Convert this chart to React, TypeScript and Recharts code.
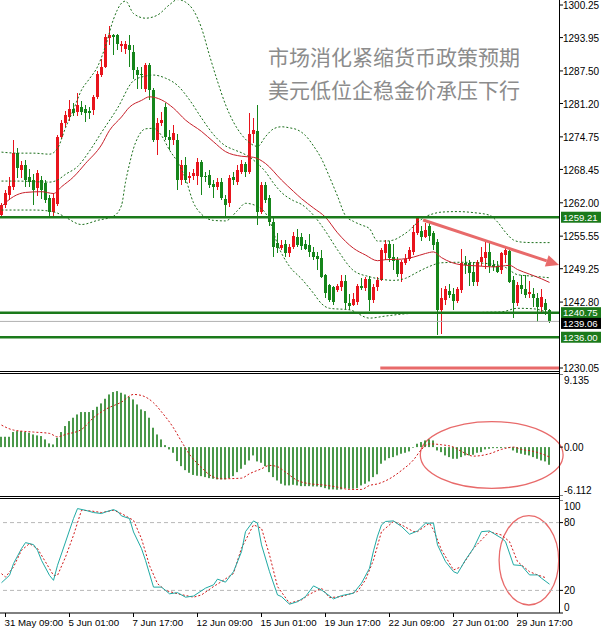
import React from 'react';
import {
    ComposedChart,
    Bar,
    Line,
    XAxis,
    YAxis,
    ReferenceLine,
    ReferenceArea,
} from 'recharts';

// ---- candles (H4 bars, index 0 = leftmost) ----
const opens = [
    1259.6, 1261.6, 1263.5, 1265.1, 1271.6, 1268.3, 1269.3, 1267.0, 1266.5, 1264.8,
    1266.4, 1265.8, 1262.9, 1260.3, 1261.8, 1274.8, 1277.4, 1278.6, 1280.1, 1279.6,
    1280.6, 1280.1, 1279.8, 1279.9, 1282.5, 1286.7, 1288.3, 1293.8, 1294.4, 1294.45,
    1292.3, 1291.7, 1292.5, 1291.2, 1287.7, 1287.0, 1284.0, 1288.6, 1283.8, 1274.1,
    1277.4, 1280.6, 1274.8, 1274.1, 1274.1, 1266.4, 1269.3, 1266.7, 1267.2, 1267.2,
    1269.8, 1267.2, 1267.4, 1265.6, 1265.1, 1266.1, 1262.7, 1261.9, 1267.0, 1266.1,
    1268.0, 1269.5, 1268.0, 1275.4, 1275.8, 1260.3, 1265.4, 1262.9, 1258.3, 1254.2,
    1253.3, 1254.0, 1252.2, 1253.4, 1255.3, 1255.4, 1254.0, 1253.8, 1252.5, 1251.7,
    1251.3, 1248.0, 1246.1, 1245.7, 1245.1, 1245.7, 1246.8, 1242.6, 1242.3, 1242.9,
    1245.9, 1245.5, 1247.2, 1243.2, 1245.7, 1247.1, 1252.3, 1254.0, 1251.5, 1250.9,
    1248.2, 1250.4, 1251.1, 1252.5, 1256.2, 1256.6, 1255.4, 1257.5, 1256.1, 1254.5,
    1241.3, 1243.2, 1245.0, 1244.3, 1243.0, 1245.1, 1250.4, 1250.3, 1248.7, 1246.6,
    1250.6, 1251.3, 1252.4, 1250.0, 1249.8, 1249.0, 1251.9, 1252.6, 1247.1, 1242.6,
    1246.1, 1245.3, 1244.3, 1244.4, 1243.5, 1241.8, 1242.6, 1241.3,
];
const highs = [
    1262.0, 1264.5, 1267.0, 1274.2, 1272.5, 1270.0, 1270.3, 1268.5, 1267.5, 1268.3,
    1267.2, 1266.5, 1263.5, 1263.8, 1275.2, 1278.0, 1279.8, 1281.9, 1281.3, 1283.2,
    1281.6, 1281.0, 1280.6, 1282.8, 1287.4, 1289.9, 1294.7, 1296.1, 1294.7, 1294.7,
    1293.2, 1293.2, 1294.45, 1292.6, 1288.3, 1288.3, 1289.0, 1289.0, 1284.2, 1278.4,
    1279.6, 1281.3, 1276.1, 1277.0, 1275.3, 1270.2, 1270.9, 1267.9, 1268.5, 1270.7,
    1270.3, 1268.0, 1268.3, 1266.4, 1266.7, 1266.7, 1263.5, 1267.3, 1267.9, 1269.3,
    1270.3, 1269.9, 1279.4, 1278.4, 1281.0, 1266.0, 1266.0, 1263.5, 1259.0, 1256.1,
    1254.8, 1254.9, 1254.0, 1256.4, 1256.9, 1256.1, 1254.8, 1255.9, 1253.5, 1252.5,
    1252.9, 1248.2, 1246.3, 1246.0, 1246.3, 1248.0, 1248.0, 1244.4, 1244.6, 1246.3,
    1247.4, 1247.6, 1247.8, 1246.3, 1247.7, 1253.3, 1254.8, 1254.6, 1254.0, 1251.5,
    1251.0, 1252.1, 1253.5, 1257.7, 1259.3, 1257.6, 1258.1, 1258.5, 1256.6, 1255.0,
    1245.5, 1245.9, 1246.3, 1245.5, 1245.7, 1253.0, 1251.7, 1251.0, 1250.5, 1251.0,
    1253.5, 1254.5, 1254.5, 1251.0, 1250.7, 1252.5, 1253.5, 1253.0, 1247.8, 1246.7,
    1248.0, 1248.0, 1246.8, 1245.6, 1244.5, 1245.3, 1243.4, 1241.4,
];
const lows = [
    1259.3, 1261.0, 1262.5, 1264.5, 1266.7, 1266.7, 1265.0, 1265.0, 1261.6, 1263.3,
    1262.8, 1262.0, 1259.3, 1259.5, 1261.3, 1274.3, 1276.7, 1277.9, 1278.7, 1278.7,
    1278.9, 1277.7, 1278.3, 1279.0, 1282.0, 1286.4, 1288.0, 1292.6, 1290.6, 1291.6,
    1291.2, 1290.8, 1288.3, 1286.0, 1284.0, 1284.0, 1283.5, 1281.9, 1273.8, 1271.2,
    1276.9, 1274.1, 1272.2, 1273.2, 1264.5, 1265.4, 1265.8, 1265.8, 1266.4, 1265.4,
    1263.5, 1266.0, 1264.9, 1262.9, 1264.5, 1262.5, 1259.0, 1261.2, 1265.4, 1265.4,
    1267.5, 1267.0, 1267.5, 1273.5, 1257.8, 1259.9, 1261.9, 1257.6, 1251.6, 1252.3,
    1252.9, 1251.6, 1251.6, 1253.0, 1253.4, 1252.9, 1252.9, 1251.6, 1250.9, 1249.0,
    1247.4, 1243.5, 1242.9, 1242.3, 1244.7, 1245.0, 1241.4, 1241.3, 1242.0, 1242.3,
    1245.2, 1244.9, 1241.0, 1242.6, 1244.9, 1246.8, 1250.9, 1250.6, 1249.0, 1247.6,
    1246.7, 1249.9, 1250.7, 1251.9, 1255.8, 1254.7, 1255.2, 1254.7, 1252.9, 1236.4,
    1236.7, 1242.3, 1243.6, 1241.3, 1242.6, 1244.6, 1248.3, 1246.0, 1245.9, 1245.9,
    1249.8, 1249.2, 1248.5, 1248.9, 1248.5, 1248.3, 1250.4, 1246.5, 1239.7, 1242.0,
    1244.3, 1243.5, 1243.6, 1241.8, 1239.0, 1240.7, 1240.3, 1238.7,
];
const closes = [
    1261.6, 1263.8, 1265.3, 1271.6, 1268.7, 1269.3, 1266.5, 1266.1, 1264.5, 1267.7,
    1264.5, 1262.5, 1260.3, 1262.9, 1274.8, 1277.4, 1279.0, 1280.1, 1279.3, 1280.9,
    1279.6, 1279.3, 1279.3, 1282.5, 1287.0, 1288.3, 1294.1, 1294.4, 1294.0, 1292.8,
    1292.7, 1292.7, 1291.6, 1287.7, 1286.7, 1286.7, 1288.6, 1283.8, 1274.1, 1277.4,
    1278.0, 1274.8, 1274.1, 1275.5, 1266.4, 1269.3, 1266.4, 1267.2, 1267.7, 1269.8,
    1267.0, 1267.0, 1265.4, 1265.1, 1266.1, 1262.9, 1261.6, 1266.7, 1266.4, 1268.3,
    1269.5, 1268.0, 1275.4, 1276.1, 1260.3, 1265.4, 1262.5, 1258.3, 1253.5, 1253.3,
    1253.8, 1252.3, 1253.4, 1255.6, 1253.8, 1253.6, 1253.0, 1252.4, 1251.6, 1251.1,
    1247.7, 1244.5, 1243.2, 1242.9, 1245.9, 1246.8, 1242.6, 1242.0, 1243.3, 1245.9,
    1245.5, 1247.2, 1243.2, 1245.7, 1247.1, 1252.9, 1254.0, 1251.3, 1250.8, 1248.2,
    1250.6, 1251.2, 1252.9, 1256.4, 1259.1, 1255.4, 1256.8, 1255.5, 1253.8, 1241.3,
    1243.5, 1245.3, 1244.2, 1243.0, 1245.3, 1250.3, 1250.0, 1248.5, 1246.7, 1250.6,
    1251.5, 1252.4, 1249.8, 1249.6, 1248.7, 1252.2, 1252.9, 1246.7, 1242.6, 1246.1,
    1245.3, 1244.2, 1244.8, 1243.5, 1241.9, 1243.8, 1241.3, 1239.06,
];

// ---- overlays on the price panel: [bar, value] ----
const bbUpper = [
    [0, 1271.8], [4, 1271.6], [8, 1271.6], [12, 1271.4], [14, 1272.5], [16, 1276.5], [18, 1280.0],
    [20, 1283.8], [22, 1286.0], [24, 1288.3], [26, 1292.3], [28, 1297.5], [30, 1300.6], [31, 1301.0],
    [33, 1298.6], [36, 1297.7], [39, 1298.3], [42, 1300.3], [44, 1301.3], [46, 1300.8], [48, 1299.2],
    [50, 1295.8], [52, 1290.5], [54, 1285.5], [56, 1281.0], [58, 1277.6], [60, 1275.2], [62, 1273.6],
    [64, 1272.9], [66, 1274.8], [68, 1276.3], [70, 1276.7], [72, 1276.5], [74, 1276.1], [76, 1275.0],
    [78, 1273.0], [80, 1270.5], [82, 1267.0], [84, 1263.3], [86, 1259.5], [88, 1258.4], [90, 1257.7],
    [92, 1257.0], [94, 1254.6], [96, 1254.6], [98, 1254.8], [100, 1255.6], [102, 1256.7], [104, 1258.2],
    [106, 1259.3], [108, 1259.9], [110, 1260.2], [114, 1260.3], [118, 1260.1], [122, 1259.6],
    [124, 1258.3], [126, 1256.3], [128, 1254.8], [130, 1254.4], [133, 1254.3], [137, 1254.3],
];
const bbMiddle = [
    [0, 1266.2], [4, 1266.2], [8, 1266.1], [12, 1266.0], [14, 1266.4], [16, 1267.5], [19, 1269.0],
    [22, 1272.0], [25, 1275.6], [29, 1280.3], [33, 1285.6], [36, 1286.5], [38, 1286.7], [41, 1286.1],
    [44, 1284.7], [47, 1281.9], [50, 1278.4], [53, 1275.2], [56, 1273.0], [58, 1272.3], [61, 1271.3],
    [64, 1269.6], [66, 1268.0], [68, 1265.8], [70, 1264.0], [73, 1262.4], [75, 1261.7], [78, 1259.6],
    [81, 1256.5], [84, 1252.9], [88, 1248.9], [92, 1247.7], [95, 1247.2], [98, 1247.0], [101, 1247.4],
    [104, 1248.6], [107, 1249.7], [110, 1250.4], [115, 1250.5], [122, 1250.2], [126, 1249.5],
    [129, 1248.1], [133, 1247.8], [137, 1247.5],
];
const bbLower = [
    [0, 1260.6], [4, 1260.6], [8, 1260.6], [12, 1260.4], [14, 1260.0], [16, 1259.2], [20, 1257.8],
    [24, 1258.6], [28, 1259.4], [30, 1261.5], [31, 1266.0], [32, 1269.5], [33, 1272.5], [34, 1274.5],
    [36, 1276.3], [38, 1276.4], [40, 1275.0], [42, 1272.2], [44, 1269.9], [46, 1266.7], [48, 1262.0],
    [50, 1259.8], [53, 1258.6], [56, 1258.5], [59, 1260.5], [61, 1261.9], [64, 1261.3], [66, 1260.0],
    [67, 1258.6], [69, 1254.0], [72, 1249.7], [75, 1247.3], [78, 1244.5], [80, 1242.5], [82, 1241.6],
    [87, 1241.3], [92, 1239.7], [96, 1240.1], [103, 1240.6], [110, 1240.6], [115, 1240.6],
    [120, 1240.8], [125, 1240.9], [129, 1241.6], [133, 1241.5], [137, 1240.6],
];
const maLine = [
    [0, 1261.3], [3, 1263.2], [6, 1264.0], [10, 1264.15], [13, 1263.8], [15, 1265.1], [18, 1267.0],
    [21, 1269.6], [25, 1273.2], [27, 1276.0], [30, 1278.6], [32, 1280.5], [35, 1281.8], [37, 1282.5],
    [40, 1281.9], [43, 1280.3], [46, 1278.0], [50, 1275.8], [53, 1273.8], [56, 1271.9], [60, 1271.0],
    [63, 1270.8], [66, 1269.6], [70, 1266.4], [73, 1264.2], [75, 1262.8], [78, 1261.0], [81, 1259.2],
    [84, 1256.2], [88, 1253.2], [91, 1251.9], [94, 1250.8], [96, 1251.0], [100, 1251.1], [103, 1251.5],
    [106, 1252.2], [108, 1252.5], [110, 1251.4], [115, 1250.0], [119, 1249.8], [123, 1249.6],
    [127, 1249.9], [129, 1249.1], [132, 1248.2], [135, 1247.3], [137, 1246.6],
];

// ---- MACD ----
const macdHist = [
    1.29, 1.29, 1.29, 1.88, 2.0, 2.0, 1.88, 1.79, 1.58, 1.46,
    1.38, 0.96, 0.46, 0.33, 1.17, 1.88, 2.63, 3.25, 3.67, 4.08,
    4.38, 4.38, 4.38, 4.63, 5.04, 5.46, 6.04, 6.58, 6.88, 7.0,
    6.79, 6.58, 6.29, 5.96, 5.33, 4.71, 4.5, 3.67, 2.42, 1.58,
    0.96, 0.25, -0.29, -0.71, -1.75, -2.38, -2.88, -3.21, -3.48, -3.58,
    -3.63, -3.75, -3.88, -3.96, -4.04, -4.04, -4.04, -3.88, -3.63, -3.13,
    -2.71, -2.21, -1.67, -1.04, -1.79, -1.96, -2.38, -3.13, -3.75, -4.17,
    -4.58, -4.79, -4.79, -4.71, -4.79, -4.88, -4.88, -4.88, -4.92, -4.92,
    -5.0, -5.13, -5.29, -5.29, -5.33, -5.29, -5.13, -5.21, -5.21, -5.13,
    -4.79, -4.58, -4.29, -3.75, -3.4, -2.08, -1.67, -1.38, -1.25, -1.04,
    -0.83, -0.71, -0.54, -0.08, 0.42, 0.63, 0.83, 0.96, 0.83, -0.42,
    -0.63, -1.04, -1.25, -1.46, -1.46, -1.25, -1.04, -1.04, -0.96, -0.71,
    -0.63, -0.29, -0.21, -0.13, -0.13, -0.13, -0.08, -0.13, -0.42, -0.71,
    -0.83, -0.96, -1.04, -1.25, -1.46, -1.67, -1.79, -2.21,
];
const macdSignal = [
    [0, 2.75], [3, 2.13], [8, 1.88], [12, 1.71], [14, 1.29], [16, 1.58], [20, 2.21], [23, 3.67],
    [26, 4.71], [30, 5.63], [33, 6.58], [35, 6.45], [38, 5.54], [40, 4.4], [43, 2.4], [45, 0.7],
    [47, -0.9], [50, -2.55], [52, -3.46], [55, -3.96], [60, -3.88], [62, -3.33], [65, -2.71],
    [67, -2.29], [69, -2.45], [71, -3.13], [74, -4.17], [77, -4.58], [80, -4.71], [84, -5.0],
    [87, -5.29], [90, -5.29], [92, -4.79], [94, -4.6], [97, -3.96], [100, -2.92], [103, -1.6],
    [105, -0.29], [107, 0.4], [110, 0.29], [113, 0.0], [115, -0.54], [118, -1.13], [122, -0.83],
    [125, -0.29], [128, 0.0], [130, -0.29], [133, -0.54], [135, -0.83], [137, -1.25],
];

// ---- Stochastic ----
const stochMain = [
    [0, 26.8], [2, 33.3], [3, 43.7], [5, 57], [6, 62.3], [8, 60.5], [9, 55.5], [10, 46.6], [12, 33.3],
    [13, 28.9], [14, 42.2], [16, 62.8], [18, 83.6], [19, 92.4], [21, 90.9], [23, 88.9], [25, 88],
    [26, 89.4], [28, 91.5], [29, 90], [30, 85.9], [32, 83.6], [33, 71.7], [35, 57], [36, 46.6],
    [38, 22.9], [40, 22.9], [41, 20], [42, 17], [44, 18], [46, 14], [48, 15], [51, 22], [53, 24.9],
    [54, 30], [56, 27.3], [58, 36.6], [60, 54.3], [61, 72], [63, 81.5], [64, 79.5], [65, 60.3],
    [67, 36.6], [69, 16], [70, 14.5], [72, 7.8], [74, 10], [76, 14.5], [78, 24], [80, 20.4],
    [83, 12.5], [85, 15.4], [88, 17.5], [90, 26.4], [92, 39.6], [93, 55], [94, 68], [95, 78],
    [96, 81], [98, 81.5], [100, 76.5], [102, 69.7], [104, 72.6], [106, 79.5], [108, 79.5],
    [109, 60.3], [111, 45.5], [113, 36.6], [114, 35], [116, 47], [118, 57.3], [120, 72],
    [122, 72.6], [125, 66.2], [126, 63.2], [128, 42.6], [130, 42], [132, 33.7], [134, 33.7],
    [135, 30.8], [137, 25.5],
];
const stochSignal = [
    [0, 34.8], [1, 31.8], [3, 40.7], [5, 55.5], [7, 61.4], [9, 57], [11, 45.2], [13, 33.3],
    [14, 33.3], [16, 49.5], [18, 68.8], [20, 90.9], [22, 90.5], [25, 88.9], [28, 90.9], [30, 88],
    [33, 82], [35, 65.8], [37, 42], [39, 26], [41, 20], [44, 17], [48, 14], [50, 16], [53, 23.4],
    [55, 27.8], [58, 35], [60, 57.4], [63, 78], [65, 75], [67, 51.4], [69, 23.4], [72, 8.7],
    [75, 11.6], [77, 16.6], [80, 22], [82, 13.6], [85, 14.5], [89, 19], [91, 29.3], [93, 47],
    [95, 72], [98, 81], [100, 78], [103, 72], [104, 72], [107, 79.5], [108, 73.5], [110, 55.8],
    [113, 38.1], [115, 41], [118, 57.3], [122, 72], [125, 69], [127, 63.2], [129, 45.5],
    [132, 36.6], [134, 33.7], [136, 31.3],
];

// ---- axes ----
const timeTicks = [1, 17, 33, 49, 65, 81, 97, 113, 129];
const timeLabels = [
    '31 May 09:00', '5 Jun 01:00', '7 Jun 17:00', '12 Jun 09:00', '15 Jun 01:00',
    '19 Jun 17:00', '22 Jun 09:00', '27 Jun 01:00', '29 Jun 17:00',
];
const priceTicks = [1300.25, 1293.95, 1287.5, 1281.2, 1274.75, 1268.45, 1262.0, 1255.55, 1249.25, 1242.8, 1230.05];
const tagValues = [1259.21, 1240.75, 1239.06, 1236.0];
const tagColors = ['#1b7a1b', '#1b7a1b', '#000000', '#1b7a1b'];
const tagNudge = [0, 0, 2, 0]; // the two middle tags sit edge to edge
const macdTicks = [9.135, 0, -6.112];
const macdLabels = ['9.135', '0.00', '-6.112'];
const stochTicks = [100, 80, 20, 0];
const stochLabels = ['100', '80', '20', '0'];

// ---- hand-drawn annotations ----
const greenLevels = [1259.21, 1240.75, 1236.0];
const bidLevel = 1239.06;
const trendArrow = [{ x: 105.4, y: 1258.67 }, { x: 139.4, y: 1249.97 }];
const lowMark = [{ x: 94.7, y: 1230.05 }, { x: 139.6, y: 1230.05 }];
const macdCircle = { x1: 104.7, x2: 140.4, y1: -5.15, y2: 3.18 };
const stochCircle = { x1: 124.4, x2: 139.3, y1: 7.1, y2: 86.1 };

// bar centres land on x = 1.5 + 4*i, so 1px and 3px marks stay crisp
const X_DOMAIN: [number, number] = [-0.375, 139.625];
const FONT = '"Liberation Sans", Arial, sans-serif';
const RED = '#e8141c';
const GREEN = '#15851a';
const BB = '#1a6e1a';
const NOTE = '#e86a6a';

const candleRows = opens.map((open, i) => ({
    i,
    open,
    high: highs[i],
    low: lows[i],
    close: closes[i],
    range: [lows[i], highs[i]],
}));
const macdRows = macdHist.map((h, i) => ({ i, h }));
const pts = (a: number[][]) => a.map(([i, v]) => ({ i, v }));

const Candle = (props: any) => {
    const { x, y, width, height, payload } = props;
    if (!payload || height == null) return null;
    const top = Math.min(y, y + height);
    const h = Math.abs(height);
    const { open, close, high, low } = payload;
    const k = h / (high - low || 1);
    const yo = top + (high - open) * k;
    const yc = top + (high - close) * k;
    const color = close >= open ? RED : GREEN;
    const cx = x + width / 2;
    return (
        <g shapeRendering="crispEdges">
            <line x1={cx} x2={cx} y1={top} y2={top + h} stroke={color} strokeWidth={1} />
            <rect x={x} y={Math.min(yo, yc)} width={width} height={Math.max(1, Math.abs(yc - yo))} fill={color} />
        </g>
    );
};

// histogram stick: a touch wider than 1px so the green survives downscaling
const HistBar = (props: any) => {
    const { x, y, width, height } = props;
    if (height == null) return null;
    const cx = x + width / 2;
    return (
        <rect
            x={cx - 0.8}
            y={Math.min(y, y + height)}
            width={1.6}
            height={Math.abs(height)}
            fill="#1e7f1e"
        />
    );
};

const PriceTick = (props: any) => {
    const { x, y, payload } = props;
    const v = payload.value;
    const t = tagValues.findIndex((tv) => Math.abs(tv - v) < 1e-6);
    if (t >= 0) {
        const yy = y + tagNudge[t];
        return (
            <g>
                <rect x={x + 1} y={yy - 5.5} width={40} height={11} fill={tagColors[t]} />
                <text x={x + 3} y={yy + 3.5} fill="#fff" fontSize={9.6} fontFamily={FONT}>
                    {v.toFixed(2)}
                </text>
            </g>
        );
    }
    return (
        <g>
            <line x1={x} x2={x + 3} y1={y} y2={y} stroke="#000" />
            <text x={x + 3} y={y + 4.2} fill="#000" fontSize={10} fontFamily={FONT}>
                {v.toFixed(2)}
            </text>
        </g>
    );
};

const makeSideTick = (values: number[], labels: string[]) => (props: any) => {
    const { x, y, payload } = props;
    const k = values.findIndex((v) => Math.abs(v - payload.value) < 1e-6);
    const dy = k === 0 ? 6 : k === values.length - 1 ? -6 : 0;
    return (
        <g>
            <line x1={x} x2={x + 3} y1={y} y2={y} stroke="#000" />
            <text x={x + 4} y={y + dy + 3.6} fill="#000" fontSize={10} fontFamily={FONT}>
                {labels[k]}
            </text>
        </g>
    );
};

const TimeTick = (props: any) => {
    const { x, y, payload } = props;
    const k = timeTicks.indexOf(payload.value);
    return (
        <g>
            <line x1={x} x2={x} y1={y} y2={y + 4} stroke="#000" />
            <text x={x - 1} y={y + 12.5} fill="#000" fontSize={9.7} fontFamily={FONT} textAnchor="start">
                {timeLabels[k]}
            </text>
        </g>
    );
};

const Arrow = (props: any) => {
    const { x1, y1, x2, y2 } = props;
    const a = Math.atan2(y2 - y1, x2 - x1);
    const len = 13;
    const half = 6;
    const bx = x2 - len * Math.cos(a);
    const by = y2 - len * Math.sin(a);
    const px = -Math.sin(a) * half;
    const py = Math.cos(a) * half;
    return (
        <g>
            <line x1={x1} y1={y1} x2={bx} y2={by} stroke={NOTE} strokeWidth={3} />
            <polygon points={`${x2},${y2} ${bx + px},${by + py} ${bx - px},${by - py}`} fill={NOTE} />
        </g>
    );
};

const Ellipse = (props: any) => {
    const { x, y, width, height } = props;
    return (
        <ellipse
            cx={x + width / 2}
            cy={y + height / 2}
            rx={Math.abs(width) / 2}
            ry={Math.abs(height) / 2}
            fill="none"
            stroke={NOTE}
            strokeWidth={1.3}
        />
    );
};

const line = (color: string, dash?: string) => ({
    stroke: color,
    strokeWidth: 1,
    strokeDasharray: dash,
    dot: false,
    activeDot: false,
    isAnimationActive: false,
    connectNulls: true,
});

const hLine = (top: number) => (
    <div style={{ position: 'absolute', left: 0, top, width: 560, height: 1, background: '#000' }} />
);

const App = () => {
    return (
        <div style={{ position: 'absolute', left: 0, top: 0, width: 601, height: 631, background: '#fff', overflow: 'hidden' }}>
            {/* price panel */}
            <div style={{ position: 'absolute', left: 0, top: 0 }}>
                <ComposedChart width={601} height={374} data={candleRows} margin={{ top: 0, right: 0, bottom: 3, left: 0 }}>
                    <XAxis type="number" dataKey="i" domain={X_DOMAIN} allowDataOverflow hide />
                    <YAxis
                        orientation="right"
                        type="number"
                        domain={[1229.472, 1301.217]}
                        allowDataOverflow
                        width={41}
                        ticks={[...priceTicks, ...tagValues]}
                        interval={0}
                        tick={<PriceTick />}
                        tickLine={false}
                        tickSize={0}
                        tickMargin={0}
                        axisLine={false}
                    />
                    <Bar dataKey="range" barSize={3} shape={<Candle />} isAnimationActive={false} />
                    <Line data={pts(bbUpper)} dataKey="v" type="monotone" {...line(BB, '2 2')} />
                    <Line data={pts(bbMiddle)} dataKey="v" type="monotone" {...line(BB, '2 2')} />
                    <Line data={pts(bbLower)} dataKey="v" type="monotone" {...line(BB, '2 2')} />
                    <Line data={pts(maLine)} dataKey="v" type="monotone" {...line('#c8202a')} />
                    {greenLevels.map((lv) => (
                        <ReferenceLine key={lv} y={lv} stroke="#1b7a1b" strokeWidth={2.5} />
                    ))}
                    <ReferenceLine y={bidLevel} stroke="#b0b0b0" strokeWidth={1} />
                    <ReferenceLine segment={lowMark} stroke={NOTE} strokeWidth={3} ifOverflow="visible" />
                    <ReferenceLine segment={trendArrow} ifOverflow="visible" shape={(p: any) => <Arrow {...p} />} />
                </ComposedChart>
            </div>

            {/* MACD panel */}
            <div style={{ position: 'absolute', left: 0, top: 374 }}>
                <ComposedChart width={601} height={122} data={macdRows} margin={{ top: 0, right: 0, bottom: 0, left: 0 }}>
                    <XAxis type="number" dataKey="i" domain={X_DOMAIN} allowDataOverflow hide />
                    <YAxis
                        orientation="right"
                        type="number"
                        domain={[-6.112, 9.135]}
                        allowDataOverflow
                        width={41}
                        ticks={macdTicks}
                        interval={0}
                        tick={makeSideTick(macdTicks, macdLabels)}
                        tickLine={false}
                        tickSize={0}
                        tickMargin={0}
                        axisLine={false}
                    />
                    <Bar dataKey="h" barSize={1} shape={<HistBar />} isAnimationActive={false} />
                    <Line data={pts(macdSignal)} dataKey="v" type="monotone" {...line('#d01818', '2 2')} />
                    <ReferenceArea
                        {...macdCircle}
                        ifOverflow="visible"
                        shape={(p: any) => <Ellipse {...p} />}
                    />
                </ComposedChart>
            </div>

            {/* Stochastic panel */}
            <div style={{ position: 'absolute', left: 0, top: 500 }}>
                <ComposedChart width={601} height={131} margin={{ top: 0, right: 0, bottom: 0, left: 0 }}>
                    <XAxis
                        type="number"
                        dataKey="i"
                        domain={X_DOMAIN}
                        allowDataOverflow
                        height={18}
                        ticks={timeTicks}
                        interval={0}
                        tick={<TimeTick />}
                        tickLine={false}
                        tickSize={0}
                        tickMargin={0}
                        axisLine={{ stroke: '#000' }}
                    />
                    <YAxis
                        orientation="right"
                        type="number"
                        domain={[0, 100]}
                        allowDataOverflow
                        width={41}
                        ticks={stochTicks}
                        interval={0}
                        tick={makeSideTick(stochTicks, stochLabels)}
                        tickLine={false}
                        tickSize={0}
                        tickMargin={0}
                        axisLine={false}
                    />
                    <ReferenceLine y={80} stroke="#b8b8b8" strokeDasharray="4 3" />
                    <ReferenceLine y={20} stroke="#b8b8b8" strokeDasharray="4 3" />
                    <Line data={pts(stochSignal)} dataKey="v" type="linear" {...line('#d01818', '2 2')} />
                    <Line data={pts(stochMain)} dataKey="v" type="linear" {...line('#20aaa4')} />
                    <ReferenceArea
                        {...stochCircle}
                        ifOverflow="visible"
                        shape={(p: any) => <Ellipse {...p} />}
                    />
                </ComposedChart>
            </div>

            {/* panel frames */}
            {hLine(371)}
            {hLine(373)}
            {hLine(496)}
            {hLine(498)}
            <div style={{ position: 'absolute', left: 559, top: 0, width: 1, height: 613, background: '#000' }} />

            {/* headline */}
            <div
                style={{
                    position: 'absolute',
                    left: 268,
                    top: 40,
                    fontFamily: '"Noto Sans CJK SC", sans-serif',
                    fontSize: 21,
                    lineHeight: '33px',
                    color: '#8c8c8c',
                    whiteSpace: 'nowrap',
                }}
            >
                <div>市场消化紧缩货币政策预期</div>
                <div>美元低位企稳金价承压下行</div>
            </div>
        </div>
    );
};

export default App;
